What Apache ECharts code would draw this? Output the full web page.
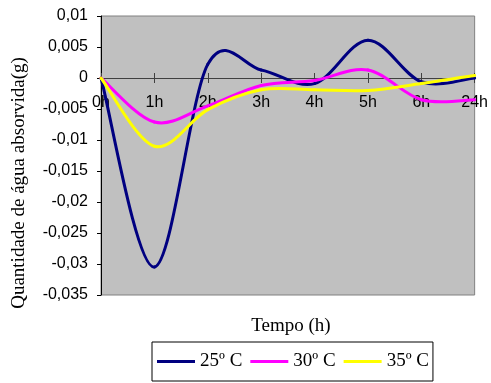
<!DOCTYPE html>
<html>
<head>
<meta charset="utf-8">
<script src="https://cdn.jsdelivr.net/npm/echarts@6/dist/echarts.min.js"></script>
<style>
html,body{margin:0;padding:0;background:#fff;}
#c{width:491px;height:383px;}
</style>
</head>
<body>
<div id="c"></div>
<script>
const categories = ['0h', '1h', '2h', '3h', '4h', '5h', '6h', '24h'];
const seriesNames = ['25º C', '30º C', '35º C'];
const s25 = [0, -0.0305, 0.0022, 0.0013, -0.0009, 0.0061, -0.0006, 0];
const s30 = [0, -0.0071, -0.0045, -0.0012, -0.0004, 0.0013, -0.0035, -0.0035];
const s35 = [0, -0.011, -0.0051, -0.0019, -0.0019, -0.002, -0.0009, 0.0004];
const seriesColors = ['#000080', '#FF00FF', '#FFFF00'];
const yAxisTitle = 'Quantidade de água absorvida(g)';
const xAxisTitle = 'Tempo (h)';

const allValues = [s25, s30, s35];

function makeRender(vals, color) {
  return function (params, api) {
    const i = params.dataIndex;
    const n = vals.length;
    if (i >= n - 1) return null;
    const pt = k => { const j = Math.max(0, Math.min(n - 1, k)); return api.coord([j, vals[j]]); };
    const p0 = pt(i - 1), p1 = pt(i), p2 = pt(i + 1), p3 = pt(i + 2);
    return {
      type: 'bezierCurve',
      shape: {
        x1: p1[0], y1: p1[1], x2: p2[0], y2: p2[1],
        cpx1: p1[0] + (p2[0] - p0[0]) / 6, cpy1: p1[1] + (p2[1] - p0[1]) / 6,
        cpx2: p2[0] - (p3[0] - p1[0]) / 6, cpy2: p2[1] - (p3[1] - p1[1]) / 6
      },
      style: { stroke: color, lineWidth: 3, fill: null, lineCap: 'round' }
    };
  };
}

const chart = echarts.init(document.getElementById('c'), null, { renderer: 'canvas' });
const fmt = v => Number(v.toFixed(4)).toString().replace('.', ',');

// grid: top 16, bottom edge 295, zero line at 78
const zeroFromBottom = 217;
const zeroFromTop = 62;

chart.setOption({
  animation: false,
  grid: {
    left: 101, right: 12, top: 16, bottom: 88,
    show: true, backgroundColor: '#C0C0C0', borderColor: '#808080', borderWidth: 1
  },
  xAxis: [{
    type: 'category', data: categories, boundaryGap: false, position: 'bottom', offset: -zeroFromBottom,
    axisLine: { onZero: false, lineStyle: { color: '#404040', width: 1 } },
    axisTick: { show: true, length: 5, inside: false, lineStyle: { color: '#404040' } },
    axisLabel: { fontSize: 16, color: '#000', fontFamily: 'Liberation Sans, Arial', margin: 17, interval: 0 },
    splitLine: { show: false }
  }, {
    type: 'category', data: categories, boundaryGap: false, position: 'top', offset: -zeroFromTop,
    axisLine: { show: false, onZero: false },
    axisTick: { show: true, length: 5, lineStyle: { color: '#404040' } },
    axisLabel: { show: false },
    splitLine: { show: false }
  }],
  yAxis: {
    type: 'value', min: -0.035, max: 0.01, interval: 0.005,
    axisLine: { show: true, onZero: false, lineStyle: { color: '#000', width: 1 } },
    axisTick: { show: true, length: 4, lineStyle: { color: '#000' } },
    axisLabel: { fontSize: 16, color: '#000', fontFamily: 'Liberation Sans, Arial', margin: 13, formatter: fmt },
    splitLine: { show: false }
  },
  legend: {
    data: seriesNames,
    left: 152, top: 342,
    orient: 'horizontal',
    icon: 'rect', itemWidth: 38, itemHeight: 3, itemGap: 8,
    padding: [10, 4, 10, 5],
    borderColor: '#000', borderWidth: 1, backgroundColor: '#fff',
    textStyle: { fontSize: 19, color: '#000', fontFamily: 'Liberation Serif, Times New Roman' }
  },
  graphic: [{
    type: 'text', x: 19, y: 183, rotation: Math.PI / 2,
    style: { text: yAxisTitle, align: 'center', verticalAlign: 'middle', fontSize: 19, fontFamily: 'Liberation Serif', fill: '#000' }
  }, {
    type: 'text', x: 291, y: 326,
    style: { text: xAxisTitle, align: 'center', verticalAlign: 'middle', fontSize: 19, fontFamily: 'Liberation Serif', fill: '#000' }
  }],
  series: allValues.map((vals, si) => ({
    type: 'custom',
    name: seriesNames[si],
    coordinateSystem: 'cartesian2d',
    itemStyle: { color: seriesColors[si] },
    encode: { x: 0, y: 1 },
    data: vals.map((v, i) => [i, v]),
    renderItem: makeRender(vals, seriesColors[si]),
    z: 2 + si
  }))
});
</script>
</body>
</html>
